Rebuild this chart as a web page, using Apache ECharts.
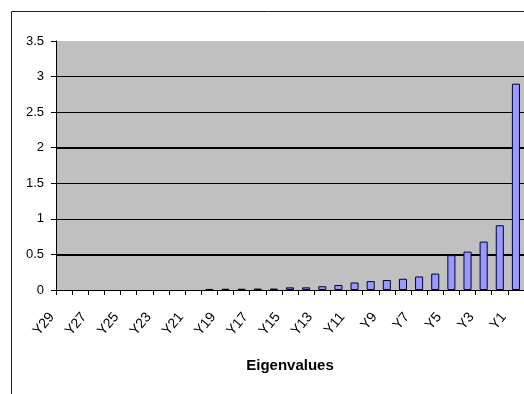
<!DOCTYPE html>
<html>
<head>
<meta charset="utf-8">
<script src="https://cdn.jsdelivr.net/npm/echarts@6/dist/echarts.min.js"></script>
<style>
  html, body { margin: 0; padding: 0; background: #ffffff; }
  #chart { width: 524px; height: 394px; }
</style>
</head>
<body>
<div id="chart"></div>
<script>
// Eigenvalues Y29 .. Y1
const categories = ['Y29','Y28','Y27','Y26','Y25','Y24','Y23','Y22','Y21','Y20',
                    'Y19','Y18','Y17','Y16','Y15','Y14','Y13','Y12','Y11','Y10',
                    'Y9','Y8','Y7','Y6','Y5','Y4','Y3','Y2','Y1'];
const eigenvalues = [0, 0, 0, 0, 0, 0, 0, 0, 0, 0.015,
                     0.018, 0.018, 0.02, 0.02, 0.037, 0.037, 0.053, 0.07, 0.105, 0.125,
                     0.14, 0.158, 0.19, 0.23, 0.49, 0.54, 0.68, 0.91, 2.9];
const yTicks = { min: 0, max: 3.5, step: 0.5 };
const heavyGridValues = [0.5, 2];

const chart = echarts.init(document.getElementById('chart'));
const font = "'Liberation Sans', Arial, sans-serif";

// zero-height bars get no outline so nothing is drawn for them
const barData = eigenvalues.map(v => (v === 0
  ? { value: v, itemStyle: { borderWidth: 0 } }
  : v));

chart.setOption({
  animation: false,
  backgroundColor: '#ffffff',
  graphic: [{
    type: 'rect',
    z: -10,
    shape: { x: 11.5, y: 11.5, width: 1000, height: 1000 },
    style: { fill: 'none', stroke: '#222222', lineWidth: 1 }
  }],
  grid: {
    left: 56, right: 0, top: 41, bottom: 104,
    show: true, backgroundColor: '#c0c0c0', borderWidth: 0
  },
  xAxis: {
    type: 'category',
    data: categories,
    boundaryGap: true,
    name: 'Eigenvalues',
    nameLocation: 'middle',
    nameGap: 76,
    nameTextStyle: {
      fontFamily: font, fontWeight: 'bold', fontSize: 15, color: '#000',
      verticalAlign: 'middle'
    },
    axisLine: { lineStyle: { color: '#000', width: 1 } },
    axisTick: { show: true, interval: 0, length: 5, lineStyle: { color: '#000' } },
    axisLabel: {
      interval: 1, rotate: 50, margin: 10, padding: [0, 19, 0, 0],
      fontFamily: font, fontSize: 14, color: '#000'
    },
    splitLine: { show: false }
  },
  yAxis: {
    type: 'value',
    min: yTicks.min, max: yTicks.max, interval: yTicks.step,
    axisLine: { show: true, lineStyle: { color: '#000', width: 1 } },
    axisTick: { show: true, length: 5, lineStyle: { color: '#000' } },
    axisLabel: { margin: 12, fontFamily: font, fontSize: 13, color: '#000' },
    splitLine: { show: true, showMaxLine: false, lineStyle: { color: '#000', width: 1 } }
  },
  series: [{
    type: 'bar',
    data: barData,
    barWidth: '50%',
    z: 3,
    itemStyle: { color: '#9999ff', borderColor: '#000033', borderWidth: 1 },
    markLine: {
      silent: true, z: 1, symbol: 'none',
      label: { show: false },
      lineStyle: { color: '#000', width: 2, type: 'solid' },
      data: heavyGridValues.map(v => ({ yAxis: v }))
    }
  }]
});
</script>
</body>
</html>
